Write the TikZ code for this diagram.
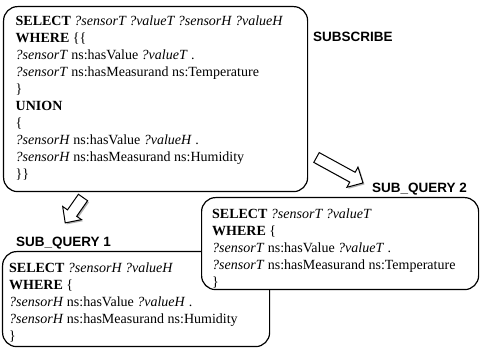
\documentclass[tikz,border=0pt]{standalone}
\usepackage{fontspec}
\setmainfont{Liberation Serif}
\newfontfamily\labelfont{Liberation Sans}
\newcommand\qk[1]{\textbf{#1}}
\newcommand\qv[1]{\textit{#1}}
\begin{document}
\begin{tikzpicture}[x=1pt,y=-1pt,
  qbox/.style={draw, line width=1.2pt, rounded corners=14pt, fill=white,
    anchor=north west, inner sep=0pt},
  qtext/.style={anchor=north west, align=left, inner sep=0pt,
    font=\fontsize{14}{17}\selectfont},
  lab/.style={font=\labelfont\bfseries\fontsize{13.5}{16}\selectfont,
    anchor=base west, inner sep=0pt},
  pics/barrow/.style={code={
    \filldraw[fill=white, draw=black, line width=1pt, line join=miter]
      (0,-5.6) -- (#1-12,-5.6) -- (#1-12,-11.5) -- (#1,0) -- (#1-12,11.5)
      -- (#1-12,5.6) -- (0,5.6) -- cycle;}},
  pics/barrowshadow/.style={code={
    \fill[black!30]
      (0,-5.6) -- (#1-12,-5.6) -- (#1-12,-11.5) -- (#1,0) -- (#1-12,11.5)
      -- (#1-12,5.6) -- (0,5.6) -- cycle;}}
  ]
\useasboundingbox (0,0) rectangle (483,350);

% main query
\node[qbox, minimum width=304, minimum height=185] (main) at (3,6) {};
\node[qtext] (maintext) at (15.5,13.5)
{\strut\qk{SELECT} \qv{?sensorT ?valueT ?sensorH ?valueH}\\
\qk{WHERE} \{\{\\
\qv{?sensorT} ns:hasValue \qv{?valueT} .\\
\qv{?sensorT} ns:hasMeasurand ns:Temperature\\
\}\\
\qk{UNION}\\
\{\\
\qv{?sensorH} ns:hasValue \qv{?valueH} .\\
\qv{?sensorH} ns:hasMeasurand ns:Humidity\\
\}\}\strut};

% sub query 1
\node[qbox, minimum width=267, minimum height=95] (sq1) at (2,251) {};
\node[qtext] (sq1text) at (9,260)
{\strut\qk{SELECT} \qv{?sensorH ?valueH}\\
\qk{WHERE} \{\\
\qv{?sensorH} ns:hasValue \qv{?valueH} .\\
\qv{?sensorH} ns:hasMeasurand ns:Humidity\\
\}\strut};

% sub query 2
\node[qbox, minimum width=277, minimum height=92] (sq2) at (201,197) {};
\node[qtext] (sq2text) at (212,206)
{\strut\qk{SELECT} \qv{?sensorT ?valueT}\\
\qk{WHERE} \{\\
\qv{?sensorT} ns:hasValue \qv{?valueT} .\\
\qv{?sensorT} ns:hasMeasurand ns:Temperature\\
\}\strut};

% labels
\node[lab] (lsub) at (313,42) {SUBSCRIBE};
\node[lab] (lsq2) at (372,193) {SUB\_QUERY 2};
\node[lab] (lsq1) at (16,247) {SUB\_QUERY 1};

% block arrows
\pic[shift={(318,159)}, rotate=-28.7] {barrowshadow=53};
\pic[shift={(316.5,157.5)}, rotate=-28.7] {barrow=53};
\pic[shift={(84.5,199)}, rotate=-125] {barrowshadow=31};
\pic[shift={(83,197.5)}, rotate=-125] {barrow=31};
\end{tikzpicture}
\end{document}
